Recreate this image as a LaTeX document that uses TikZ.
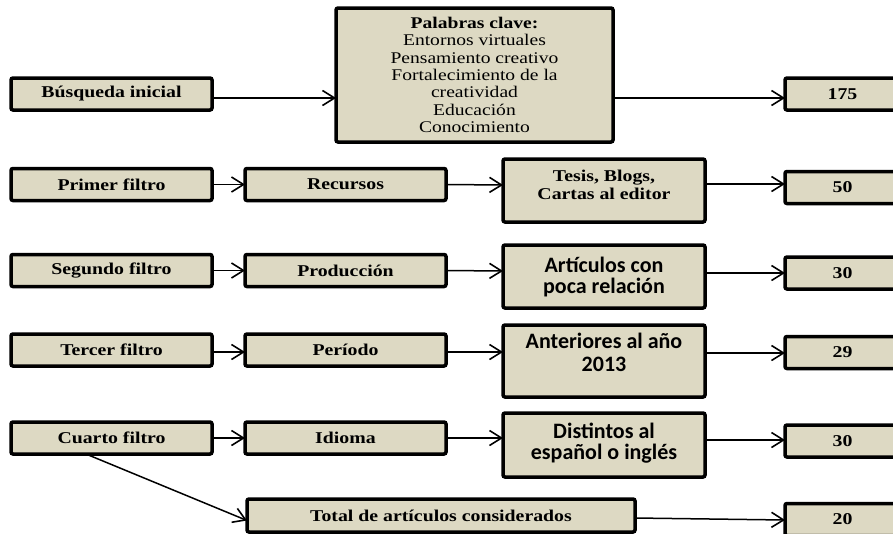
\documentclass[tikz,border=0pt]{standalone}
\usepackage{fontspec}
\usetikzlibrary{arrows.meta}
\newfontfamily\tnrfont[FakeStretch=1.2]{Liberation Serif}
\newfontfamily\calfont{Carlito}
\definecolor{boxfill}{HTML}{DDD9C3}
\begin{document}
\begin{tikzpicture}[x=1pt,y=-1pt,
  box/.style={draw=black, line width=3.5pt, fill=boxfill, rounded corners=2pt, inner sep=0pt, outer sep=0pt},
  lbl/.style={font=\tnrfont\bfseries\fontsize{16.5}{17.3}\selectfont, align=center},
  kwl/.style={font=\tnrfont\fontsize{16.3}{17.3}\selectfont, align=center},
  tlbl/.style={font=\tnrfont\bfseries\fontsize{16.5}{17.5}\selectfont, align=center, inner sep=0pt},
  clbl/.style={font=\calfont\bfseries\fontsize{22}{20.7}\selectfont, align=center, inner sep=0pt},
  lw/.style={minimum width=201pt, minimum height=32pt},
  nw/.style={minimum width=115pt, minimum height=32pt},
  tw/.style={minimum width=202pt},
  arr/.style={draw=black, line width=1.5pt, -{Straight Barb[length=12pt,width=15pt,line width=1.6pt]}}
]
\useasboundingbox (0,0) rectangle (893,533);
\clip (0,0) rectangle (893,533);

% Row 1
\node[box, lw, lbl] (b1) at (111.5,94) {Búsqueda inicial};
\node[box, minimum width=277pt, minimum height=134pt, kwl] (kw) at (474.5,75)
  {{\bfseries Palabras clave:}\\Entornos virtuales\\Pensamiento creativo\\Fortalecimiento de la\\creatividad\\Educación\\Conocimiento};
\node[box, nw, lbl] (n1) at (842.5,94) {175};

% Row 2
\node[box, lw, lbl] (p1) at (111.5,184.5) {Primer filtro};
\node[box, lw, lbl] (r1) at (345.5,184.5) {Recursos};
\node[box, tw, minimum height=63pt] (t1) at (604,190.5) {};
\node[tlbl, anchor=north] (t1t) at ([yshift=-11pt]t1.north) {Tesis, Blogs,\\Cartas al editor};
\node[box, nw, lbl] (n2) at (842.5,187.5) {50};

% Row 3
\node[box, lw, lbl] (p2) at (111.5,270.5) {Segundo filtro};
\node[box, lw, lbl] (r2) at (345.5,270.5) {Producción};
\node[box, tw, minimum height=63pt] (t2) at (604,276.5) {};
\node[clbl, anchor=north] (t2t) at ([yshift=-12pt]t2.north) {Artículos con\\poca relación};
\node[box, nw, lbl] (n3) at (842.5,273) {30};

% Row 4
\node[box, lw, lbl] (p3) at (111.5,350) {Tercer filtro};
\node[box, lw, lbl] (r3) at (345.5,350) {Período};
\node[box, tw, minimum height=72pt] (t3) at (604,361) {};
\node[clbl, anchor=north, font=\calfont\bfseries\fontsize{22}{22.5}\selectfont] (t3t) at ([yshift=-8pt]t3.north) {Anteriores al año\\2013};
\node[box, nw, lbl] (n4) at (842.5,352.5) {29};

% Row 5
\node[box, lw, lbl] (p4) at (111.5,438) {Cuarto filtro};
\node[box, lw, lbl] (r4) at (345.5,438) {Idioma};
\node[box, tw, minimum height=64pt] (t4) at (604,445) {};
\node[clbl, anchor=north] (t4t) at ([yshift=-10pt]t4.north) {Distintos al\\español o inglés};
\node[box, nw, lbl] (n5) at (842.5,441) {30};

% Total
\node[box, minimum width=388pt, minimum height=33pt, lbl] (tot) at (441,515.5) {Total de artículos considerados};
\node[box, nw, lbl] (n6) at (842.5,519.5) {20};

% Arrows
\draw[arr] ([yshift=-4pt]b1.east) -- ([yshift=-23pt]kw.west);
\draw[arr] ([yshift=-23pt]kw.east) -- ([yshift=-4pt]n1.west);

\draw[arr] (p1.east) -- (r1.west);
\draw[arr] (r1.east) -- ([yshift=5.5pt]t1.west);
\draw[arr] ([yshift=6.5pt]t1.east) -- ([yshift=3.5pt]n2.west);

\draw[arr] (p2.east) -- (r2.west);
\draw[arr] (r2.east) -- ([yshift=5.5pt]t2.west);
\draw[arr] ([yshift=3.5pt]t2.east) -- (n3.west);

\draw[arr] ([yshift=-2pt]p3.east) -- ([yshift=-2pt]r3.west);
\draw[arr] ([yshift=-2pt]r3.east) -- ([yshift=9pt]t3.west);
\draw[arr] ([yshift=8pt]t3.east) -- ([yshift=-0.5pt]n4.west);

\draw[arr] (p4.east) -- (r4.west);
\draw[arr] (r4.east) -- ([yshift=7pt]t4.west);
\draw[arr] ([yshift=5pt]t4.east) -- ([yshift=1pt]n5.west);

\draw[arr] ([xshift=-25.5pt]p4.south) -- ([yshift=-5pt]tot.west);
\draw[arr] ([yshift=-2.5pt]tot.east) -- ([yshift=-0.5pt]n6.west);
\end{tikzpicture}
\end{document}
